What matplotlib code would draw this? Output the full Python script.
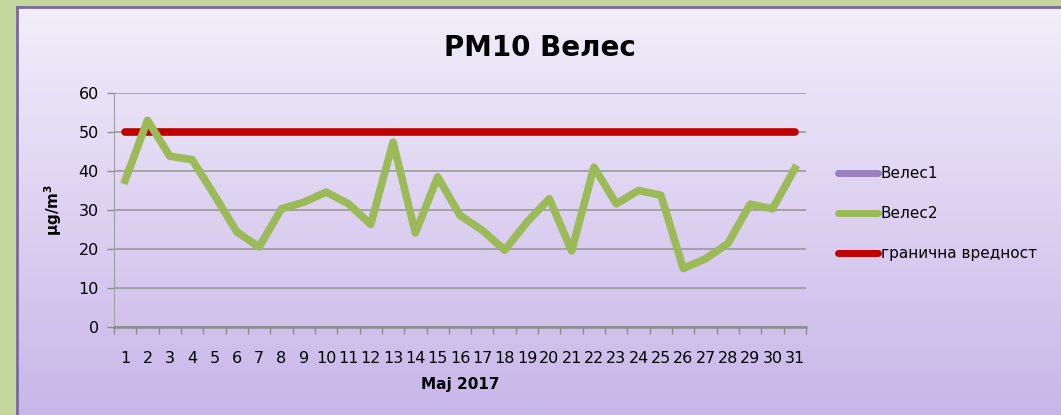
import matplotlib.pyplot as plt
import numpy as np
from matplotlib.lines import Line2D
from matplotlib.colors import LinearSegmentedColormap

days = list(range(1, 32))
veles1 = []  # no data for Велес1 in May
veles2 = [37.6, 53.0, 43.8, 42.9, 33.8, 24.4, 20.5, 30.3, 32.0, 34.6,
          31.6, 26.3, 47.4, 24.1, 38.5, 28.6, 24.8, 19.7, 26.9, 32.9,
          19.5, 41.0, 31.6, 35.0, 33.8, 15.0, 17.5, 21.4, 31.5, 30.3, 40.6]
limit = [50] * 31
series_names = ['Велес1', 'Велес2', 'гранична вредност']

plt.rcParams['font.family'] = ['DejaVu Sans']

fig = plt.figure(figsize=(10.61, 4.15), dpi=100)
fig.patch.set_facecolor('#c3d69b')

# lavender gradient panel (light on top, darker at bottom)
bg = fig.add_axes([17 / 1061, 0, 1 - 17 / 1061, 1 - 7 / 415])
grad = np.linspace(0, 1, 256).reshape(-1, 1)
cmap = LinearSegmentedColormap.from_list('lav', ['#f2eefa', '#c8b6e9'])
bg.imshow(grad, aspect='auto', cmap=cmap, extent=[0, 1, 0, 1], origin='upper')
bg.set_xlim(0, 1)
bg.set_ylim(0, 1)
for s in bg.spines.values():
    s.set_visible(False)
for s in ['left', 'top']:
    bg.spines[s].set_visible(True)
    bg.spines[s].set_color('#7a68a0')
    bg.spines[s].set_linewidth(2)
bg.set_xticks([])
bg.set_yticks([])

ax = fig.add_axes([114 / 1061, 1 - 327 / 415, 692 / 1061, 234 / 415])
ax.patch.set_alpha(0)

x = np.arange(len(days))
ax.plot(x, veles1, color='#9a80bf', linewidth=5.5) if veles1 else None
ax.plot(x, veles2, color='#9bbb59', linewidth=5.5, solid_joinstyle='round', zorder=3)
ax.plot(x, limit, color='#c00000', linewidth=5.5, solid_capstyle='round', zorder=2)

ax.set_xlim(-0.5, len(days) - 0.5)
ax.set_ylim(0, 60)
ax.set_yticks(range(0, 61, 10))
ax.tick_params(axis='y', labelsize=11.5, length=5, width=1, color='#8c8c8c', pad=6)
ax.grid(axis='y', color='#9a9a9a', linewidth=1.2)
ax.set_axisbelow(True)

ax.set_xticks(x)
ax.set_xticklabels([str(d) for d in days], fontsize=11.5)
ax.set_xticks(np.arange(-0.5, len(days)), minor=True)
ax.tick_params(axis='x', which='major', length=0, pad=17)
ax.tick_params(axis='x', which='minor', length=5, width=1, color='#8c8c8c')

for s in ['top', 'right']:
    ax.spines[s].set_visible(False)
ax.spines['left'].set_color('#a0a0a0')
ax.spines['bottom'].set_color('#8c8c8c')
ax.spines['bottom'].set_linewidth(1.8)

ax.set_xlabel('Maj 2017', fontsize=11, fontweight='bold', labelpad=8)
ax.set_ylabel('µg/m$^\\mathbf{3}$', fontsize=11, fontweight='bold', labelpad=10)

fig.text(540 / 1061, 1 - 48 / 415, 'PM10 Велес', fontsize=20, fontweight='bold',
         ha='center', va='center')

handles = [Line2D([], [], color='#9a80bf', linewidth=5, solid_capstyle='round'),
           Line2D([], [], color='#9bbb59', linewidth=5, solid_capstyle='round'),
           Line2D([], [], color='#c00000', linewidth=5, solid_capstyle='round')]
fig.legend(handles, series_names, loc='upper left', bbox_to_anchor=(838 / 1061, 1 - 166 / 415),
           frameon=False, fontsize=11, handlelength=2.6, handletextpad=0.2,
           labelspacing=1.65, borderaxespad=0, borderpad=0)

fig.savefig('out.png', dpi=100, facecolor=fig.get_facecolor())
